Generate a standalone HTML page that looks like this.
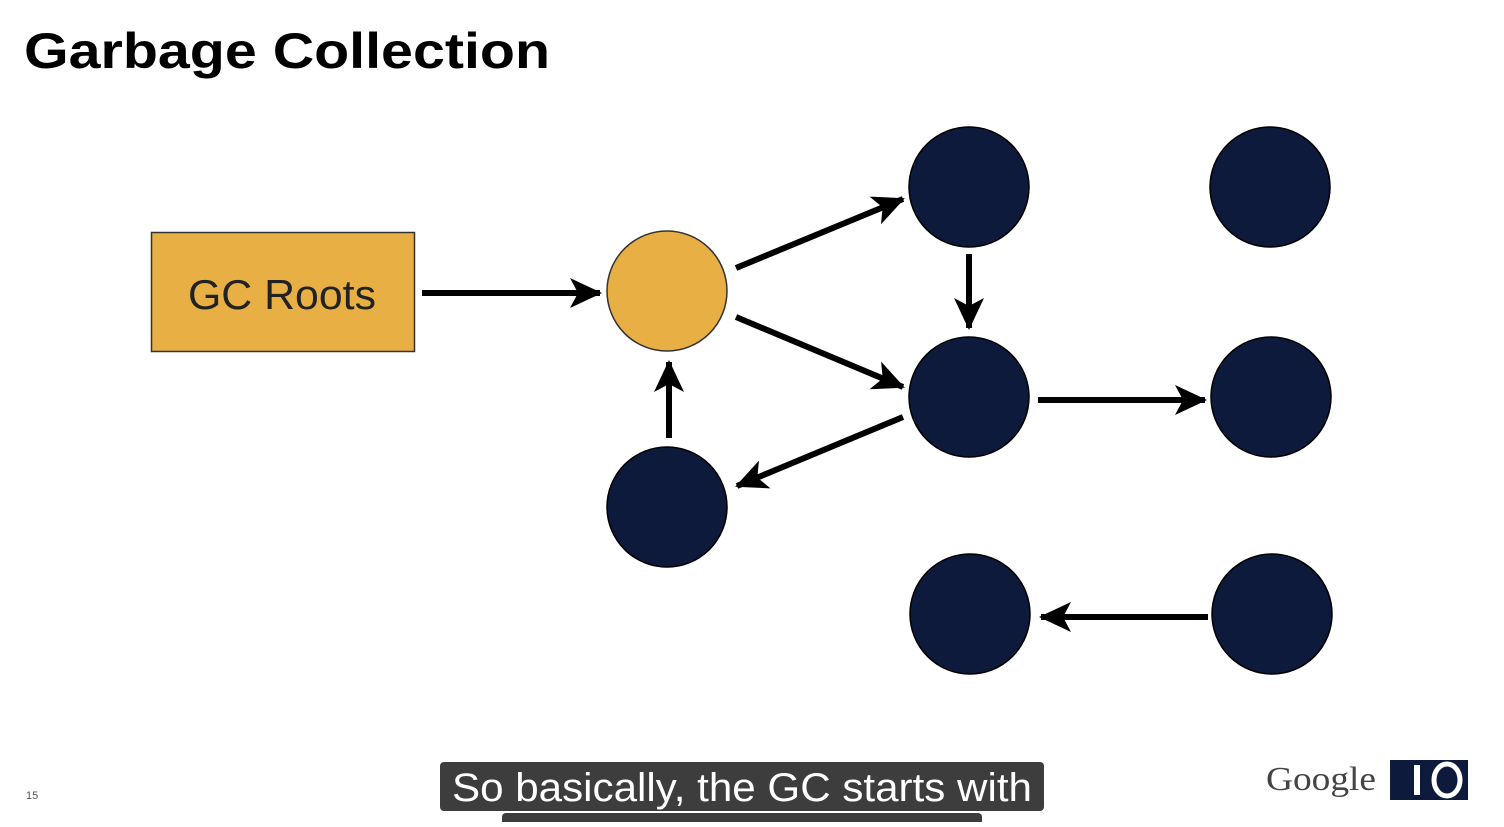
<!DOCTYPE html>
<html><head><style>
body{margin:0;width:1504px;height:822px;overflow:hidden;background:#fff;font-family:"Liberation Sans",Arial,sans-serif}
</style></head><body>
<svg width="1504" height="822" viewBox="0 0 1504 822" xmlns="http://www.w3.org/2000/svg">
<defs>
<marker id="b" markerWidth="34" markerHeight="30" refX="30" refY="15" orient="auto" markerUnits="userSpaceOnUse"><path d="M0,0 L32,15 L0,30 L8,15z" fill="#000"/></marker></defs>
<text x="24" y="68" font-size="50" font-weight="bold" fill="#000" textLength="526" lengthAdjust="spacingAndGlyphs">Garbage Collection</text>
<rect x="151.5" y="232.5" width="263" height="119" fill="#e8b044" stroke="#333" stroke-width="1.5"/>
<text x="188" y="309" font-size="42" fill="#222" textLength="188" lengthAdjust="spacingAndGlyphs">GC Roots</text>
<circle cx="667" cy="291" r="60" fill="#e8b044" stroke="#333" stroke-width="1.5"/>
<g fill="#0d1a3b" stroke="#000" stroke-width="1.5">
<circle cx="969" cy="187" r="60"/><circle cx="1270" cy="187" r="60"/>
<circle cx="969" cy="397" r="60"/><circle cx="1271" cy="397" r="60"/>
<circle cx="667" cy="507" r="60"/><circle cx="970" cy="614" r="60"/><circle cx="1272" cy="614" r="60"/>
</g>
<g stroke="#000" stroke-width="6" marker-end="url(#b)">
<line x1="422" y1="293" x2="600" y2="293"/>
<line x1="736" y1="268" x2="903" y2="199"/>
<line x1="969" y1="254" x2="969" y2="328"/>
<line x1="736" y1="317" x2="903" y2="387"/>
<line x1="1038" y1="400" x2="1205" y2="400"/>
<line x1="903" y1="417" x2="737" y2="486"/>
<line x1="669" y1="438" x2="669" y2="362"/>
<line x1="1208" y1="617" x2="1041" y2="617"/>
</g>
<text x="26" y="799" font-size="11" fill="#555">15</text>
<rect x="440" y="762" width="604" height="49" rx="4" fill="#3d3d3d"/>
<rect x="502" y="813" width="480" height="20" rx="4" fill="#3d3d3d"/>
<text x="452" y="801" font-size="40" fill="#fff" textLength="580" lengthAdjust="spacingAndGlyphs">So basically, the GC starts with</text>
<text x="1266" y="790" font-size="34" font-family="Liberation Serif,serif" fill="#444" textLength="110" lengthAdjust="spacingAndGlyphs">Google</text>
<rect x="1390" y="760" width="78" height="40" fill="#0d1a3b"/>
<rect x="1414" y="765" width="6" height="30" fill="#fff"/>
<ellipse cx="1447" cy="780" rx="13" ry="16" fill="none" stroke="#fff" stroke-width="5"/>
</svg>
</body></html>
